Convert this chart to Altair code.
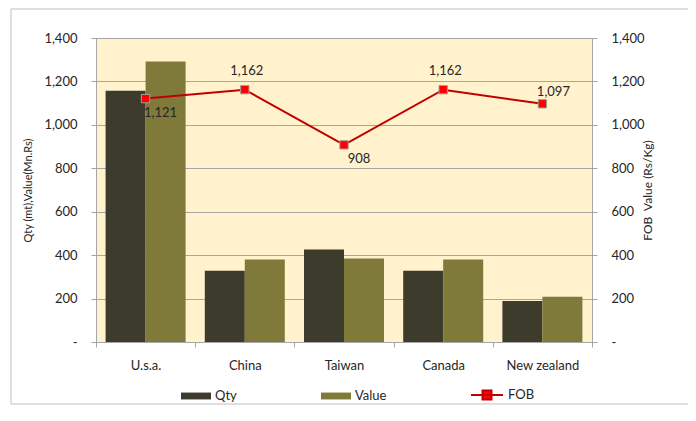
import altair as alt
import pandas as pd

# ---- data ----
countries = ["U.s.a.", "China", "Taiwan", "Canada", "New zealand"]
series = ["Qty", "Value"]
qty = [1157, 328, 426, 328, 189]
value = [1292, 380, 385, 380, 208]
fob = [1121, 1162, 908, 1162, 1097]
y_ticks = [0, 200, 400, 600, 800, 1000, 1200, 1400]

bars_df = pd.DataFrame({
    "country": countries * 2,
    "series": [series[0]] * len(countries) + [series[1]] * len(countries),
    "amount": qty + value,
})
fob_df = pd.DataFrame({"country": countries, "series": ["FOB"] * len(countries), "fob": fob})

FONT = "Lato"
TXT = "#262626"
GRID = "#A6A6A6"
DARK = "#3D3B2B"
OLIVE = "#7F7A3A"
RED_LINE = "#C00000"
RED = "#FF0000"
BG = "#FFF2CC"

label_expr = "datum.value == 0 ? '-' : format(datum.value, ',')"

x_enc = alt.X(
    "country:N", sort=countries, title=None,
    scale=alt.Scale(paddingInner=0, paddingOuter=0),
    axis=alt.Axis(labelAngle=0, tickBand="extent", tickSize=5, tickColor=GRID,
                  domainColor=GRID, labelFont=FONT, labelFontSize=13, labelColor=TXT,
                  labelPadding=12, grid=False),
)

y_scale = alt.Scale(domain=[0, 1400], nice=False)

bars = alt.Chart(bars_df).mark_bar().encode(
    x=x_enc,
    xOffset=alt.XOffset("series:N", sort=series,
                        scale=alt.Scale(paddingInner=0, paddingOuter=0.24)),
    y=alt.Y("amount:Q", scale=y_scale,
            axis=alt.Axis(title="Qty (mt),Value(Mn.Rs)", values=y_ticks, labelExpr=label_expr,
                          tickSize=5, tickColor=GRID, domainColor=GRID, gridColor=GRID,
                          labelFont=FONT, labelFontSize=13, labelColor=TXT, labelPadding=14,
                          titleFont=FONT, titleFontSize=11, titleFontWeight="normal",
                          titleColor=TXT, titlePadding=10)),
    color=alt.Color("series:N", sort=series,
                    scale=alt.Scale(domain=series, range=[DARK, OLIVE]),
                    legend=alt.Legend(title=None, orient="none", direction="horizontal",
                                      legendX=85, legendY=343,
                                      symbolType="M-1,-0.23H1V0.23H-1Z", symbolSize=900,
                                      symbolStrokeWidth=0, labelOffset=4, columnPadding=84,
                                      labelFont=FONT, labelFontSize=13, labelColor=TXT)),
)

x_line = alt.X("country:N", sort=countries)
right_axis = alt.Axis(orient="right", title="FOB\u00a0 Value (Rs/Kg)", values=y_ticks,
                      labelExpr=label_expr, tickSize=5, tickColor=GRID,
                      domainColor=GRID, grid=False, labelFont=FONT, labelFontSize=13,
                      labelColor=TXT, labelPadding=14, titleFont=FONT,
                      titleFontSize=12, titleFontWeight="normal", titleColor=TXT,
                      titleAngle=270, titlePadding=10)
y_right = alt.Y("fob:Q", scale=y_scale, axis=right_axis)

line = alt.Chart(fob_df).mark_line(strokeWidth=2).encode(
    x=x_line,
    y=y_right,
    stroke=alt.Stroke("series:N", scale=alt.Scale(domain=["FOB"], range=[RED_LINE]),
                      legend=alt.Legend(title=None, orient="none", legendX=374, legendY=340,
                                        symbolType="M-1,0H1M-0.28,-0.28H0.28V0.28H-0.28Z",
                                        symbolSize=1024, symbolStrokeWidth=2,
                                        symbolFillColor=RED, labelOffset=4,
                                        labelFont=FONT, labelFontSize=13, labelColor=TXT)),
)

points = alt.Chart(fob_df).mark_square(size=70, fill=RED, stroke="#A0A0A0",
                                       strokeWidth=1, opacity=1).encode(x=x_line, y=y_right)

def labels(names, dx, dy):
    return alt.Chart(fob_df).transform_filter(
        alt.FieldOneOfPredicate(field="country", oneOf=names)
    ).mark_text(font=FONT, fontSize=13, color=TXT, dx=dx, dy=dy, baseline="middle").encode(
        x=x_line, y=y_right, text=alt.Text("fob:Q", format=",")
    )

lab_below = labels(["U.s.a.", "Taiwan"], 15, 14)
lab_above = labels(["China", "Canada"], 2, -19)
lab_above_right = labels(["New zealand"], 11, -12)

frame = alt.Chart(pd.DataFrame({"k": [0]})).mark_rect(
    fill=None, stroke="#BFBFBF", strokeWidth=1, clip=False
).encode(x=alt.value(-85), x2=alt.value(593), y=alt.value(-29), y2=alt.value(366))

right = alt.layer(line, points, lab_below, lab_above, lab_above_right)

chart = alt.layer(frame, bars, right).resolve_scale(y="independent").properties(
    width=496, height=304,
    padding={"left": 88, "top": 30, "right": 96, "bottom": 66},
    autosize=alt.AutoSizeParams(type="none"),
    background="white",
).configure_view(fill=BG, stroke=GRID, strokeWidth=1)

chart.save("out.html", embed_options={"renderer": "svg", "actions": False})
